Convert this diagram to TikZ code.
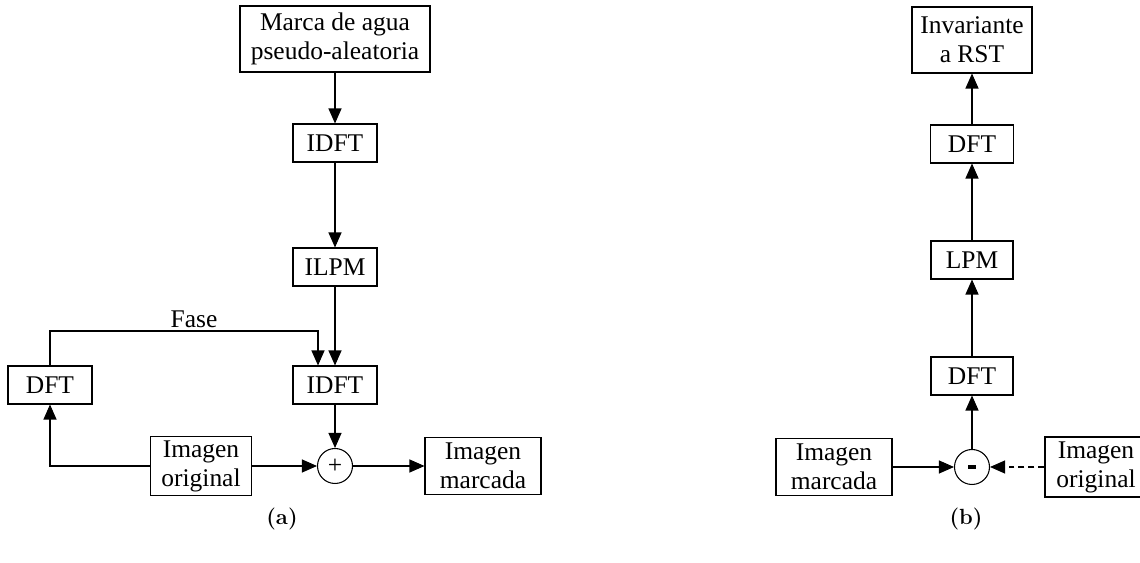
\documentclass[tikz,border=0pt]{standalone}
\usepackage{fontspec}
\newfontfamily\boxfont{Liberation Serif}
\usetikzlibrary{arrows.meta}

\begin{document}
\begin{tikzpicture}[x=0.02cm, y=-0.02cm,
  bloque/.style={draw, line width=0.6pt, align=center, inner sep=0pt,
    font=\boxfont\fontsize{14.5}{16.5}\selectfont, minimum height=0.76cm},
  suma/.style={draw, circle, line width=0.6pt, inner sep=0pt, minimum size=0.7cm,
    font=\boxfont\fontsize{14.5}{16.5}\selectfont},
  flecha/.style={line width=0.6pt, -{Triangle[length=3mm, width=2.6mm]}},
  subtitulo/.style={font=\bfseries\fontsize{12.5}{15}\selectfont}]
\useasboundingbox (0,0) rectangle (1140,563);
% (a) insercion
\node[bloque, minimum width=3.8cm, minimum height=1.32cm] (marca) at (335,39) {Marca de agua\\pseudo-aleatoria};
\node[bloque, minimum width=1.68cm] (idftA) at (335,143) {IDFT};
\node[bloque, minimum width=1.68cm] (ilpm) at (335,267) {ILPM};
\node[bloque, minimum width=1.68cm] (idftB) at (335,385) {IDFT};
\node[bloque, minimum width=1.68cm] (dftA) at (50,385) {DFT};
\node[bloque, minimum width=2.02cm, minimum height=1.18cm] (origA) at (201,466) {Imagen\\original};
\node[suma] (mas) at (335,466) {+};
\node[bloque, minimum width=2.32cm, minimum height=1.14cm] (marcA) at (483,466) {Imagen\\marcada};
\coordinate (fase) at (318,331);
\draw[flecha] (marca) -- (idftA);
\draw[flecha] (idftA) -- (ilpm);
\draw[flecha] (ilpm) -- (idftB);
\draw[flecha] (dftA.north) |- (fase) -- (fase |- idftB.north);
\node[font=\boxfont\fontsize{14.5}{16.5}\selectfont, anchor=south, inner sep=1.5pt] (faseL) at (194,331) {Fase};
\draw[flecha] (idftB) -- (mas);
\draw[flecha] (origA) -- (mas);
\draw[flecha] (mas) -- (marcA);
\draw[flecha] (origA.west) -| (dftA.south);
% (b) deteccion
\node[bloque, minimum width=2.4cm, minimum height=1.32cm] (rst) at (972,40) {Invariante\\a RST};
\node[bloque, minimum width=1.66cm] (dftC) at (972,144) {DFT};
\node[bloque, minimum width=1.64cm] (lpm) at (972,260) {LPM};
\node[bloque, minimum width=1.64cm] (dftB) at (972,376) {DFT};
\node[suma] (menos) at (972,467) {\rule{0.15cm}{0.08cm}};
\node[bloque, minimum width=2.32cm, minimum height=1.14cm] (marcB) at (834,467) {Imagen\\marcada};
\node[bloque, minimum width=2.04cm, minimum height=1.2cm] (origB) at (1096,467) {Imagen\\original};
\draw[flecha] (marcB) -- (menos);
\draw[flecha, dash pattern=on 0.12cm off 0.08cm] (origB) -- (menos);
\draw[flecha] (menos) -- (dftB);
\draw[flecha] (dftB) -- (lpm);
\draw[flecha] (lpm) -- (dftC);
\draw[flecha] (dftC) -- (rst);
% subtitulos
\node[subtitulo] (capA) at (282,519) {(a)};
\node[subtitulo] (capB) at (966,519) {(b)};
\end{tikzpicture}
\end{document}
